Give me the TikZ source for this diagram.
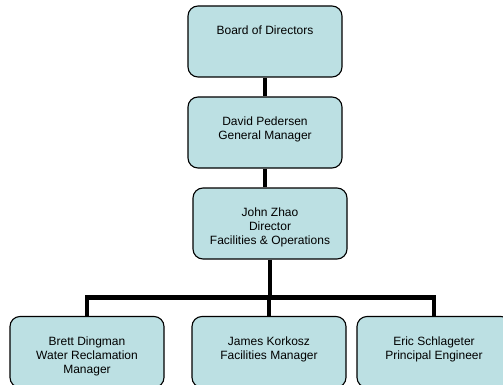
\documentclass[tikz,border=0pt]{standalone}
\usepackage{fontspec}
\setmainfont{Liberation Sans}
\usepackage{xcolor}
\usetikzlibrary{positioning}
\definecolor{unitblue}{HTML}{BCE0E3}
\tikzset{unit/.style={draw,fill=unitblue,rounded corners=10pt,line width=1.1pt,minimum width=154pt,minimum height=71pt,inner sep=0pt},
	unit text/.style={anchor=north,align=center,inner sep=0pt,font=\fontsize{12}{14}\selectfont},
	link/.style={line width=4.5pt}}

\begin{document}
\begin{tikzpicture}[x=1pt,y=-1pt]
			\useasboundingbox (0,0) rectangle (503,385);
			\clip (0,0) rectangle (503,385);
			\def\gap{20.5pt}
			% boxes
			\node[unit] (board) at (265,41.5) {};
			\node[unit] (gm) at (265,132.5) {};
			\node[unit] (dir) at (270,223.5) {};
			\node[unit] (water) at (87,352) {};
			\node[unit] (fac) at (269,352) {};
			\node[unit] (eng) at (434,352) {};

			\node[unit text,below=\gap of board.north] (board-t) {Board of Directors};
			\node[unit text,below=\gap of gm.north] (gm-t) {David Pedersen\\General Manager};
			\node[unit text,below=\gap of dir.north] (dir-t) {John Zhao\\Director\\Facilities \& Operations};
			\node[unit text,below=\gap of water.north] (water-t) {Brett Dingman\\Water Reclamation\\Manager};
			\node[unit text,below=\gap of fac.north] (fac-t) {James Korkosz\\Facilities Manager};
			\node[unit text,below=\gap of eng.north] (eng-t) {Eric Schlageter\\Principal Engineer};

			% links
			\coordinate (bar) at (270,297.5);
			\draw[link] (board.south) -- (gm.north);
			\draw[link] (gm.south) -- (gm.south |- dir.north);
			\draw[link] (dir.south) -- (bar);
			\draw[link] (water.north) |- (bar) -| (eng.north);
			\draw[link] (fac.north) -- (fac.north |- bar);
		\end{tikzpicture}
\end{document}
